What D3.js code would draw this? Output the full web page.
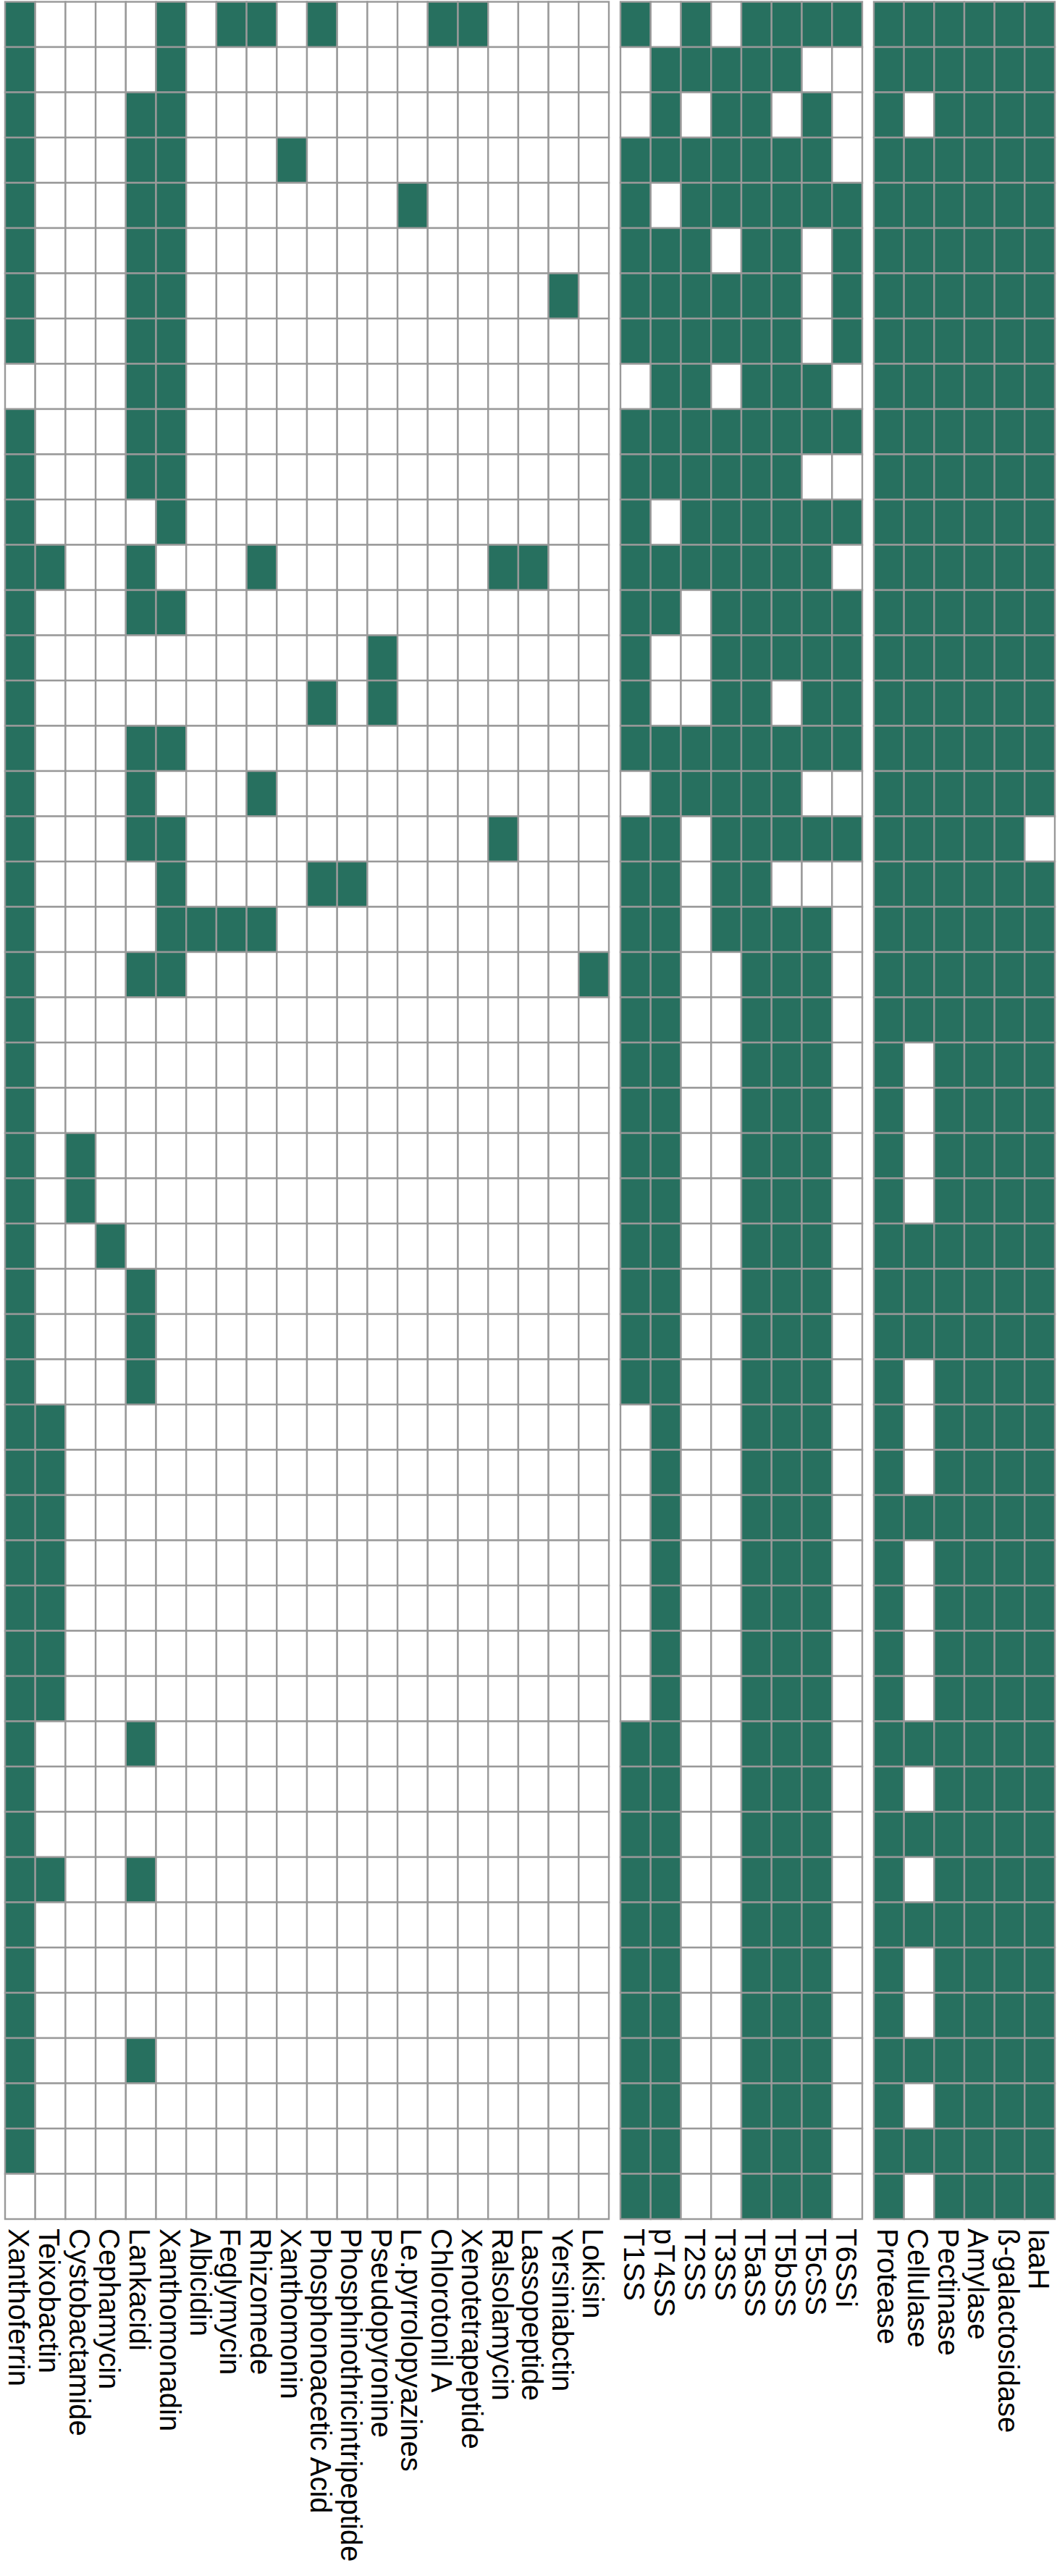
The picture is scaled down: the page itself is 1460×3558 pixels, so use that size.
<!DOCTYPE html>
<html>
<head>
<meta charset="utf-8">
<script src="https://cdn.jsdelivr.net/npm/d3@7"></script>
<style>
  html, body { margin: 0; padding: 0; background: #ffffff; }
  svg { display: block; }
  text { font-family: "Liberation Sans", Arial, sans-serif; }
</style>
</head>
<body>
<svg id="chart" width="1460" height="3558"></svg>
<script>
// ---------------- DATA ----------------
const antibioticCols = ["Xanthoferrin","Teixobactin","Cystobactamide","Cephamycin","Lankacidi",
  "Xanthomonadin","Albicidin","Feglymycin","Rhizomede","Xanthomonin","Phosphonoacetic Acid",
  "Phosphinothricintripeptide","Pseudopyronine","Le.pyrrolopyazines","Chlorotonil A",
  "Xenotetrapeptide","Ralsolamycin","Lassopeptide","Yersiniabctin","Lokisin"];

const secretionCols = ["T1SS","pT4SS","T2SS","T3SS","T5aSS","T5bSS","T5cSS","T6SSi"];

const enzymeCols = ["Protease","Cellulase","Pectinase","Amylase","ß-galactosidase","IaaH"];

// one string per strain (row), one character per column: 1 = present
const antibioticMatrix = [
  "10000101101000110000",
  "10000100000000000000",
  "10001100000000000000",
  "10001100010000000000",
  "10001100000001000000",
  "10001100000000000000",
  "10001100000000000010",
  "10001100000000000000",
  "00001100000000000000",
  "10001100000000000000",
  "10001100000000000000",
  "10000100000000000000",
  "11001000100000001100",
  "10001100000000000000",
  "10000000000010000000",
  "10000000001010000000",
  "10001100000000000000",
  "10001000100000000000",
  "10001100000000001000",
  "10000100001100000000",
  "10000111100000000000",
  "10001100000000000001",
  "10000000000000000000",
  "10000000000000000000",
  "10000000000000000000",
  "10100000000000000000",
  "10100000000000000000",
  "10010000000000000000",
  "10001000000000000000",
  "10001000000000000000",
  "10001000000000000000",
  "11000000000000000000",
  "11000000000000000000",
  "11000000000000000000",
  "11000000000000000000",
  "11000000000000000000",
  "11000000000000000000",
  "11000000000000000000",
  "10001000000000000000",
  "10000000000000000000",
  "10000000000000000000",
  "11001000000000000000",
  "10000000000000000000",
  "10000000000000000000",
  "10000000000000000000",
  "10001000000000000000",
  "10000000000000000000",
  "10000000000000000000",
  "00000000000000000000"
];

const secretionMatrix = [
  "10101111","01111100","01011010","11111110","10111111","11101101","11111101",
  "11111101","01101110","11111111","11111100","10111111","11111110","11011111",
  "10011111","10011011","11111111","01111100","11011111","11011000","11011110",
  "11001110","11001110","11001110","11001110","11001110","11001110","11001110",
  "11001110","11001110","11001110","01001110","01001110","01001110","01001110",
  "01001110","01001110","01001110","11001110","11001110","11001110","11001110",
  "11001110","11001110","11001110","11001110","11001110","11001110","11001110"
];

const enzymeMatrix = [
  "111111","111111","101111","111111","111111","111111","111111","111111",
  "111111","111111","111111","111111","111111","111111","111111","111111",
  "111111","111111","111110","111111","111111","111111","111111","101111",
  "101111","101111","101111","111111","111111","111111","101111","101111",
  "101111","111111","101111","101111","101111","101111","111111","101111",
  "111111","101111","111111","101111","101111","111111","101111","111111",
  "101111"
];

// ---------------- DRAW ----------------
const svg = d3.select("#chart");
const FILL_ON = "#27705f", FILL_OFF = "#ffffff", GRID = "#999999";

const rowIdx = antibioticMatrix.map((d, i) => i);
const y = d3.scaleBand().domain(rowIdx).range([2.5, 3065]).paddingInner(0).paddingOuter(0);

const panels = [
  { cols: antibioticCols, matrix: antibioticMatrix, range: [7, 841] },
  { cols: secretionCols,  matrix: secretionMatrix,  range: [857, 1191] },
  { cols: enzymeCols,     matrix: enzymeMatrix,     range: [1207, 1457] }
];

const labelTop = 3078;

panels.forEach(p => {
  const x = d3.scaleBand().domain(p.cols).range(p.range).paddingInner(0).paddingOuter(0);
  const cells = [];
  p.matrix.forEach((row, r) => {
    p.cols.forEach((c, ci) => cells.push({ r, c, v: row[ci] === "1" }));
  });
  const g = svg.append("g");
  g.selectAll("rect").data(cells).join("rect")
    .attr("x", d => x(d.c))
    .attr("y", d => y(d.r))
    .attr("width", x.bandwidth())
    .attr("height", y.bandwidth())
    .attr("fill", d => d.v ? FILL_ON : FILL_OFF)
    .attr("stroke", GRID)
    .attr("stroke-width", 2.4);

  svg.append("g").selectAll("text").data(p.cols).join("text")
    .attr("transform", d => `translate(${x(d) + x.bandwidth() / 2 - 15.5},${labelTop}) rotate(90)`)
    .attr("text-anchor", "start")
    .attr("font-size", 40)
    .attr("fill", "#000")
    .text(d => d);
});
</script>
</body>
</html>
